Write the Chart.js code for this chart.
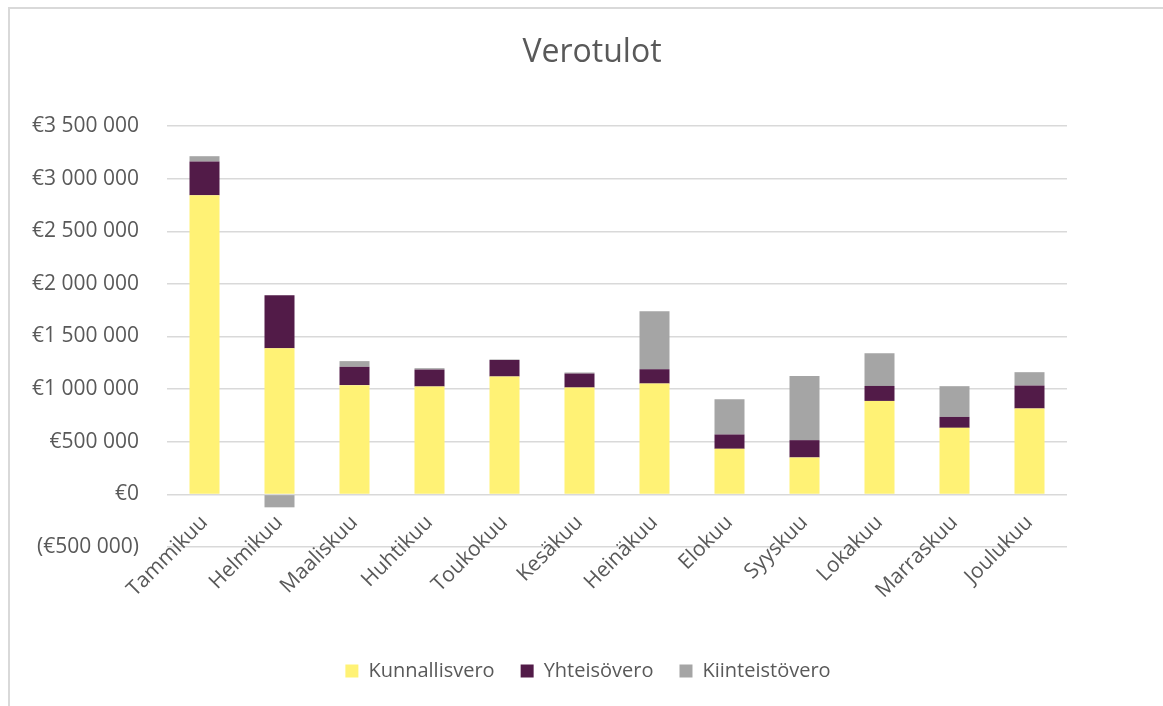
<!DOCTYPE html>
<html>
<head>
<meta charset="utf-8">
<script src="https://cdn.jsdelivr.net/npm/chart.js@4/dist/chart.umd.min.js"></script>
<style>
    html, body { margin: 0; padding: 0; background: #fff; }
    #wrap { position: relative; width: 1163px; height: 706px; overflow: hidden; }
    #frame { position: absolute; left: 8px; top: 7px; width: 1200px; height: 800px; border-left: 2px solid #d9d9d9; border-top: 2px solid #d9d9d9; }
    #myChart { position: absolute; left: 0; top: 0; }
</style>
</head>
<body>
<div id="wrap">
    <div id="frame"></div>
    <canvas id="myChart" width="1163" height="706"></canvas>
</div>
<script>
    var months = ['Tammikuu', 'Helmikuu', 'Maaliskuu', 'Huhtikuu', 'Toukokuu', 'Kesäkuu', 'Heinäkuu', 'Elokuu', 'Syyskuu', 'Lokakuu', 'Marraskuu', 'Joulukuu'];
    var kunnallisvero = [2843000, 1389000, 1038000, 1025000, 1120000, 1015000, 1053000, 433000, 351000, 888000, 632000, 816000];
    var yhteisovero = [320000, 503000, 174000, 161000, 157000, 133000, 136000, 136000, 164000, 142000, 104000, 218000];
    var kiinteistovero = [50000, -123000, 54000, 13000, 5000, 10000, 550000, 335000, 610000, 311000, 292000, 127000];
    var yTicks = [-500000, 0, 500000, 1000000, 1500000, 2000000, 2500000, 3000000, 3500000];
    var chartTitle = 'Verotulot';

    var textColor = '#595959';
    var fontFamily = '"Open Sans", "Liberation Sans", sans-serif';

    function euro(v) {
        var s = String(Math.abs(v)).replace(/\B(?=(\d{3})+(?!\d))/g, ' ');
        return v < 0 ? '(€' + s + ')' : '€' + s;
    }

    // title drawn centred on the whole frame, like the original
    var titlePlugin = {
        id: 'frameTitle',
        afterDraw: function (chart) {
            var c = chart.ctx;
            c.save();
            c.fillStyle = textColor;
            c.font = '32px ' + fontFamily;
            c.textAlign = 'center';
            c.textBaseline = 'middle';
            c.fillText(chartTitle, 592, 53);
            c.restore();
        }
    };

    // empty axis, only used to reserve room
    function spacer(pos, size) {
        return {
            type: pos === 'right' ? 'linear' : 'category',
            position: pos,
            grid: { display: false },
            border: { display: false },
            ticks: { display: false },
            afterFit: function (scale) {
                if (pos === 'right') scale.width = size; else scale.height = size;
            }
        };
    }

    function loadChart() {
        var ctx = document.getElementById('myChart').getContext('2d');

        var data = {
            labels: months,
            datasets: [
                { label: 'Kunnallisvero', data: kunnallisvero, backgroundColor: '#fff275' },
                { label: 'Yhteisövero', data: yhteisovero, backgroundColor: '#521b48' },
                { label: 'Kiinteistövero', data: kiinteistovero, backgroundColor: '#a5a5a5' }
            ]
        };

        var options = {
            responsive: false,
            animation: false,
            layout: {
                padding: { left: 13, right: 0, top: 126, bottom: 15 }
            },
            datasets: {
                bar: { barPercentage: 0.4, categoryPercentage: 1.0 }
            },
            scales: {
                x: {
                    stacked: true,
                    position: { y: 0 },
                    grid: { display: false },
                    border: { display: false },
                    ticks: {
                        color: textColor,
                        font: { family: fontFamily, size: 21 },
                        maxRotation: 45,
                        minRotation: 45,
                        padding: 8
                    }
                },
                xPad: spacer('bottom', 88),
                y: {
                    stacked: true,
                    position: 'left',
                    min: -500000,
                    max: 3500000,
                    afterBuildTicks: function (scale) {
                        scale.ticks = yTicks.map(function (v) { return { value: v }; });
                    },
                    grid: { color: '#d9d9d9', lineWidth: 1.5, drawTicks: false },
                    border: { display: false },
                    ticks: {
                        color: textColor,
                        font: { family: fontFamily, size: 21 },
                        padding: 28,
                        callback: function (v) { return euro(v); }
                    },
                    afterFit: function (scale) { scale.width = 154; }
                },
                yPad: spacer('right', 96)
            },
            plugins: {
                title: { display: false },
                legend: {
                    display: true,
                    position: 'bottom',
                    labels: {
                        color: textColor,
                        font: { family: fontFamily, size: 20 },
                        boxWidth: 13,
                        boxHeight: 13,
                        padding: 26
                    }
                },
                tooltip: { enabled: false }
            }
        };

        var myChart = new Chart(ctx, {
            type: 'bar',
            data: data,
            options: options,
            plugins: [titlePlugin]
        });
    }

    loadChart();
</script>
</body>
</html>
